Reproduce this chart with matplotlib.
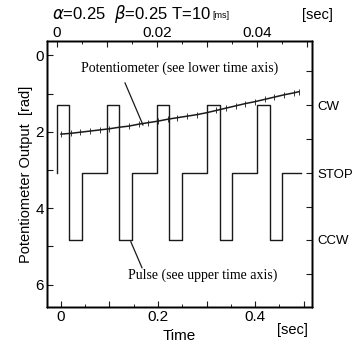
import matplotlib
matplotlib.use("Agg")
import matplotlib.pyplot as plt

# pulse command levels on the potentiometer scale
CW, STOP, CCW = 1.30, 3.08, 4.83

# pulse: switching instants [s] (upper axis) and the level held after each
pulse_t = [0.0, 0.0, 0.0025, 0.005, 0.010, 0.0125, 0.015, 0.020, 0.0225, 0.025,
           0.030, 0.0325, 0.035, 0.040, 0.0425, 0.045, 0.0487]
pulse_v = [STOP, CW, CCW, STOP, CW, CCW, STOP, CW, CCW, STOP,
           CW, CCW, STOP, CW, CCW, STOP, STOP]

# potentiometer output [rad] vs time [s] (lower axis)
pot_t = [0.00, 0.02, 0.04, 0.06, 0.08, 0.10, 0.12, 0.14, 0.16, 0.18, 0.20, 0.22,
         0.24, 0.26, 0.28, 0.30, 0.32, 0.34, 0.36, 0.38, 0.40, 0.42, 0.44, 0.46,
         0.48, 0.49]
pot_v = [2.06, 2.04, 2.01, 1.98, 1.95, 1.92, 1.88, 1.85, 1.80, 1.76, 1.72, 1.67,
         1.63, 1.59, 1.55, 1.50, 1.44, 1.38, 1.32, 1.26, 1.21, 1.15, 1.09, 1.03,
         0.98, 0.95]

right_ticks = [0.41, CW, 2.19, STOP, 3.96, CCW, 5.72]
right_labels = ["", "CW", "", "STOP", "", "CCW", ""]

INK = "#1a1a1a"
SANS = ["Liberation Sans", "DejaVu Sans"]
SERIF = ["Liberation Serif", "DejaVu Serif"]
plt.rcParams["font.family"] = SANS
plt.rcParams["axes.linewidth"] = 1.0

fig = plt.figure(figsize=(3.53, 3.47), dpi=100)
ax = fig.add_axes([0.133, 0.115, 0.751, 0.767])

ax.plot(pot_t, pot_v, color=INK, lw=1.1, marker="|", ms=4, mew=0.6)
ax.set_xlim(-0.0289, 0.5175)
ax.set_ylim(6.59, -0.38)
ax.set_xticks([0, 0.1, 0.2, 0.3, 0.4, 0.5])
ax.set_xticklabels(["0", "", "0.2", "", "0.4", ""])
ax.set_xticks([0.05, 0.15, 0.25, 0.35, 0.45], minor=True)
ax.set_yticks([0, 1, 2, 3, 4, 5, 6])
ax.set_yticklabels(["0", "", "2", "", "4", "", "6"])
ax.tick_params(direction="in", length=4, labelsize=11, pad=2, color=INK)
ax.tick_params(which="minor", direction="in", length=2.5)
ax.set_xlabel("Time", fontsize=11, labelpad=4)
ax.set_ylabel("Potentiometer Output  [rad]", fontsize=10.5, labelpad=2)
fig.text(0.785, 0.038, "[sec]", fontsize=10.5)

# pointers and annotations
ax.plot([0.132, 0.169], [0.72, 1.82], color=INK, lw=0.9)
ax.plot([0.144, 0.167], [4.88, 5.56], color=INK, lw=0.9)
ax.text(0.245, 0.33, "Potentiometer (see lower time axis)", ha="center",
        va="center", fontsize=10, family=SERIF)
ax.text(0.293, 5.75, "Pulse (see upper time axis)", ha="center",
        va="center", fontsize=10, family=SERIF)

# upper time axis: the pulse
axt = ax.twiny()
axt.plot(pulse_t, pulse_v, color=INK, lw=1.0, drawstyle="steps-post")
axt.set_xlim(-0.002, 0.051)
axt.set_xticks([0, 0.01, 0.02, 0.03, 0.04, 0.05])
axt.set_xticklabels(["0", "", "0.02", "", "0.04", ""])
axt.set_xticks([0.005, 0.015, 0.025, 0.035, 0.045], minor=True)
axt.tick_params(direction="in", length=4, labelsize=11, pad=1, color=INK)
axt.tick_params(which="minor", direction="in", length=2.5)

# right axis: pulse command names
axr = ax.twinx()
axr.set_ylim(ax.get_ylim())
axr.set_yticks(right_ticks)
axr.set_yticklabels(right_labels)
axr.tick_params(direction="in", length=4, labelsize=9.5, pad=4, color=INK)

fig.text(0.147, 0.945, r"$\alpha$=0.25  $\beta$=0.25 T=10", fontsize=12)
fig.text(0.603, 0.948, "[ms]", fontsize=6.5)
fig.text(0.855, 0.945, "[sec]", fontsize=10.5)

fig.savefig("out.png", dpi=100)
